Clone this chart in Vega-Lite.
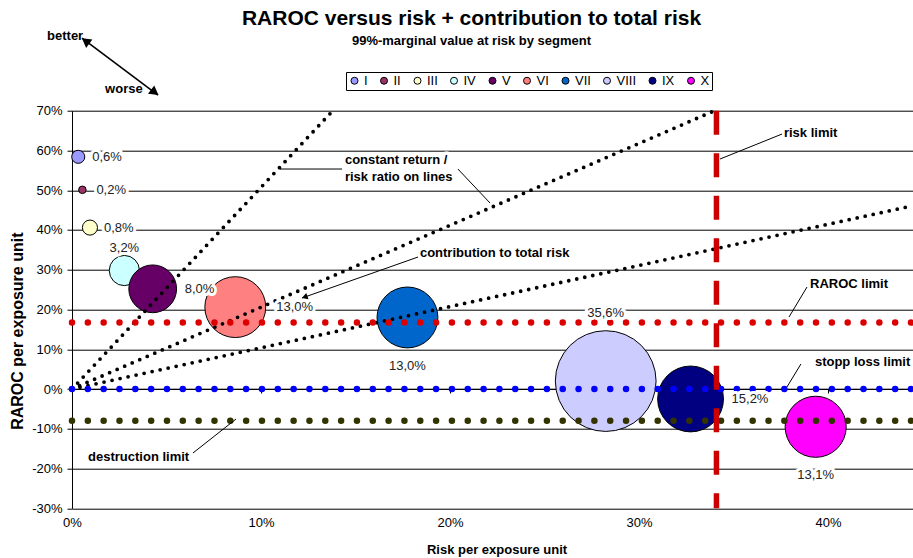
{
  "$schema": "https://vega.github.io/schema/vega-lite/v6.json",
  "width": 841,
  "height": 397.6,
  "autosize": {"type": "none"},
  "padding": {"left": 72, "top": 110.7, "right": 0, "bottom": 49.7},
  "background": "white",
  "config": {
    "font": "Liberation Sans",
    "view": {"stroke": null},
    "locale": {"number": {"decimal": ",", "thousands": ".", "grouping": [3], "currency": ["", " €"], "minus": "-"}}
  },
  "title": {
    "text": "RAROC versus risk + contribution to total risk",
    "subtitle": "99%-marginal value at risk by segment",
    "fontSize": 21,
    "fontWeight": "bold",
    "color": "#000",
    "subtitleFontSize": 13,
    "subtitleFontWeight": "bold",
    "subtitleColor": "#000",
    "subtitlePadding": 6,
    "anchor": "middle",
    "frame": "group",
    "dx": -21,
    "offset": -18
  },
  "datasets": {
    "segments": [
      {"segment": "I", "x": 0.0033, "y": 0.584, "contrib": 0.006},
      {"segment": "II", "x": 0.0055, "y": 0.501, "contrib": 0.002},
      {"segment": "III", "x": 0.0095, "y": 0.406, "contrib": 0.008},
      {"segment": "IV", "x": 0.0277, "y": 0.298, "contrib": 0.032},
      {"segment": "V", "x": 0.0427, "y": 0.252, "contrib": 0.080},
      {"segment": "VI", "x": 0.0864, "y": 0.206, "contrib": 0.130},
      {"segment": "VII", "x": 0.1775, "y": 0.180, "contrib": 0.130},
      {"segment": "VIII", "x": 0.2824, "y": 0.020, "contrib": 0.356},
      {"segment": "IX", "x": 0.3273, "y": -0.025, "contrib": 0.152},
      {"segment": "X", "x": 0.3935, "y": -0.095, "contrib": 0.131}
    ],
    "lines": [
      {"line": "ratio 1", "x": 0, "y": 0},
      {"line": "ratio 1", "x": 0.138, "y": 0.70},
      {"line": "ratio 2", "x": 0, "y": 0},
      {"line": "ratio 2", "x": 0.34, "y": 0.70},
      {"line": "ratio 3", "x": 0, "y": 0},
      {"line": "ratio 3", "x": 0.445, "y": 0.461},
      {"line": "RAROC limit", "x": 0, "y": 0.167},
      {"line": "RAROC limit", "x": 0.445, "y": 0.167},
      {"line": "stopp loss limit", "x": 0, "y": 0},
      {"line": "stopp loss limit", "x": 0.445, "y": 0},
      {"line": "destruction limit", "x": 0, "y": -0.08},
      {"line": "destruction limit", "x": 0.445, "y": -0.08}
    ],
    "risklimit": [
      {"limit": "risk limit", "x": 0.341, "y": 0.7, "y2": -0.3}
    ],
    "annotations": [
      {"text": "constant return /", "x": 0.1444, "y": 0.576},
      {"text": "risk ratio on lines", "x": 0.1444, "y": 0.5332},
      {"text": "contribution to total risk", "x": 0.1841, "y": 0.342},
      {"text": "risk limit", "x": 0.3767, "y": 0.6439},
      {"text": "RAROC limit", "x": 0.3905, "y": 0.2641},
      {"text": "stopp loss limit", "x": 0.3931, "y": 0.0679},
      {"text": "destruction limit", "x": 0.0085, "y": -0.171},
      {"text": "better", "x": -0.0132, "y": 0.8878},
      {"text": "worse", "x": 0.0175, "y": 0.7545}
    ],
    "leaders": [
      {"id": "constant return a", "x": 0.1100, "y": 0.5533, "x2": 0.1429, "y2": 0.5533},
      {"id": "constant return b", "x": 0.2042, "y": 0.5533, "x2": 0.2212, "y2": 0.4678},
      {"id": "contribution", "x": 0.1831, "y": 0.3320, "x2": 0.1217, "y2": 0.2289},
      {"id": "risk limit", "x": 0.3757, "y": 0.6413, "x2": 0.3429, "y2": 0.5785},
      {"id": "RAROC limit", "x": 0.3889, "y": 0.2565, "x2": 0.3794, "y2": 0.1811},
      {"id": "stopp loss limit", "x": 0.3857, "y": 0.0629, "x2": 0.3783, "y2": 0.0050},
      {"id": "destruction limit", "x": 0.0640, "y": -0.1610, "x2": 0.0868, "y2": -0.0755},
      {"id": "better worse", "x": 0.0053, "y": 0.8828, "x2": 0.0455, "y2": 0.7394}
    ],
    "arrowheads": [
      {"id": "better", "x": 0.0072, "y": 0.8753},
      {"id": "worse", "x": 0.0438, "y": 0.7462},
      {"id": "contribution", "x": 0.1231, "y": 0.2314}
    ]
  },
  "encoding": {
    "x": {
      "field": "x",
      "type": "quantitative",
      "scale": {"domain": [0, 0.445], "nice": false, "zero": false},
      "axis": {
        "values": [0, 0.1, 0.2, 0.3, 0.4],
        "format": ".0%",
        "offset": -119.3,
        "domain": true,
        "domainColor": "#000",
        "domainWidth": 1,
        "ticks": true,
        "tickSize": 4,
        "tickColor": "#000",
        "labelPadding": 123.5,
        "labelFontSize": 13,
        "labelColor": "#000",
        "labelFlush": false,
        "grid": false,
        "title": "Risk per exposure unit",
        "titleFontSize": 13,
        "titleFontWeight": "bold",
        "titleColor": "#000",
        "titleX": 424.5,
        "titleY": 160,
        "titleBaseline": "middle",
        "titleAlign": "center"
      }
    },
    "y": {
      "field": "y",
      "type": "quantitative",
      "scale": {"domain": [-0.3, 0.7], "nice": false, "zero": false},
      "axis": {
        "values": [-0.3, -0.2, -0.1, 0, 0.1, 0.2, 0.3, 0.4, 0.5, 0.6, 0.7],
        "format": ".0%",
        "domainColor": "#000",
        "domainWidth": 1,
        "tickColor": "#000",
        "tickSize": 5,
        "labelPadding": 5,
        "labelFontSize": 13,
        "labelColor": "#000",
        "grid": true,
        "gridColor": "#000",
        "gridWidth": 1,
        "gridOpacity": 1,
        "title": "RAROC per exposure unit",
        "titleFontSize": 16,
        "titleFontWeight": "bold",
        "titleColor": "#000",
        "titleX": -55,
        "titleY": 220,
        "titleAngle": 270,
        "titleBaseline": "middle",
        "titleAlign": "center"
      }
    }
  },
  "layer": [
    {
      "data": {"name": "segments"},
      "mark": {"type": "point", "shape": "circle", "filled": true, "opacity": 1, "strokeWidth": 1, "strokeOpacity": 1},
      "encoding": {
        "stroke": {"value": "#000"},
        "color": {
          "field": "segment",
          "type": "nominal",
          "scale": {
            "domain": ["I", "II", "III", "IV", "V", "VI", "VII", "VIII", "IX", "X"],
            "range": ["#9999FF", "#993366", "#FFFFCC", "#CCFFFF", "#660066", "#FF8080", "#0066CC", "#CCCCFF", "#000080", "#FF00FF"]
          },
          "legend": {
            "orient": "none",
            "legendX": 274,
            "legendY": -38.7,
            "direction": "horizontal",
            "columns": 10,
            "title": null,
            "symbolType": "circle",
            "symbolSize": 49,
            "symbolStrokeColor": "#000",
            "symbolStrokeWidth": 1,
            "symbolOpacity": 1,
            "labelFontSize": 13,
            "labelColor": "#000",
            "labelOffset": 3,
            "columnPadding": 9.5,
            "padding": 2,
            "strokeColor": "#000",
            "fillColor": "#fff"
          }
        },
        "size": {
          "field": "contrib",
          "type": "quantitative",
          "scale": {"domain": [0, 0.356], "range": [0, 10150], "zero": true},
          "legend": null
        }
      }
    },
    {
      "data": {"name": "lines"},
      "transform": [{"filter": {"field": "line", "oneOf": ["ratio 1", "ratio 2", "ratio 3"]}}],
      "mark": {"type": "line", "color": "#000", "strokeWidth": 3.8, "strokeDash": [0, 8.2], "strokeCap": "round"},
      "encoding": {"detail": {"field": "line", "type": "nominal"}}
    },
    {
      "data": {"name": "lines"},
      "transform": [{"filter": {"field": "line", "equal": "RAROC limit"}}],
      "mark": {"type": "line", "color": "#DD0000", "strokeWidth": 6.5, "strokeDash": [0, 15.83], "strokeCap": "round"},
      "encoding": {}
    },
    {
      "data": {"name": "lines"},
      "transform": [{"filter": {"field": "line", "equal": "stopp loss limit"}}],
      "mark": {"type": "line", "color": "#0000FF", "strokeWidth": 6.5, "strokeDash": [0, 15.83], "strokeCap": "round"},
      "encoding": {}
    },
    {
      "data": {"name": "lines"},
      "transform": [{"filter": {"field": "line", "equal": "destruction limit"}}],
      "mark": {"type": "line", "color": "#333300", "strokeWidth": 6.5, "strokeDash": [0, 15.83], "strokeCap": "round"},
      "encoding": {}
    },
    {
      "data": {"name": "risklimit"},
      "mark": {"type": "rule", "color": "#CC0000", "strokeWidth": 5.5, "strokeDash": [24, 18.5], "strokeCap": "butt"},
      "encoding": {"y2": {"field": "y2"}}
    },
    {
      "data": {"name": "segments"},
      "transform": [{"filter": {"field": "segment", "oneOf": ["I", "II", "III"]}}],
      "encoding": {"text": {"field": "contrib", "type": "quantitative", "format": ".1%"}},
      "layer": [
        {"mark": {"type": "text", "align": "left", "baseline": "middle", "dx": 14, "fontSize": 13, "stroke": "#fff", "strokeWidth": 6, "strokeJoin": "round", "color": "#fff"}},
        {"mark": {"type": "text", "align": "left", "baseline": "middle", "dx": 14, "fontSize": 13, "color": "#222"}}
      ]
    },
    {
      "data": {"name": "segments"},
      "transform": [{"filter": {"field": "segment", "equal": "V"}}],
      "encoding": {"text": {"field": "contrib", "type": "quantitative", "format": ".1%"}},
      "layer": [
        {"mark": {"type": "text", "align": "left", "baseline": "middle", "dx": 32, "fontSize": 13, "stroke": "#fff", "strokeWidth": 6, "strokeJoin": "round", "color": "#fff"}},
        {"mark": {"type": "text", "align": "left", "baseline": "middle", "dx": 32, "fontSize": 13, "color": "#222"}}
      ]
    },
    {
      "data": {"name": "segments"},
      "transform": [{"filter": {"field": "segment", "oneOf": ["VI", "IX"]}}],
      "encoding": {"text": {"field": "contrib", "type": "quantitative", "format": ".1%"}},
      "layer": [
        {"mark": {"type": "text", "align": "left", "baseline": "middle", "dx": 41, "fontSize": 13, "stroke": "#fff", "strokeWidth": 6, "strokeJoin": "round", "color": "#fff"}},
        {"mark": {"type": "text", "align": "left", "baseline": "middle", "dx": 41, "fontSize": 13, "color": "#222"}}
      ]
    },
    {
      "data": {"name": "segments"},
      "transform": [{"filter": {"field": "segment", "equal": "IV"}}],
      "encoding": {"text": {"field": "contrib", "type": "quantitative", "format": ".1%"}},
      "layer": [
        {"mark": {"type": "text", "align": "center", "baseline": "middle", "dy": -23, "fontSize": 13, "stroke": "#fff", "strokeWidth": 6, "strokeJoin": "round", "color": "#fff"}},
        {"mark": {"type": "text", "align": "center", "baseline": "middle", "dy": -23, "fontSize": 13, "color": "#222"}}
      ]
    },
    {
      "data": {"name": "segments"},
      "transform": [{"filter": {"field": "segment", "equal": "VIII"}}],
      "encoding": {"text": {"field": "contrib", "type": "quantitative", "format": ".1%"}},
      "layer": [
        {"mark": {"type": "text", "align": "center", "baseline": "middle", "dy": -68, "fontSize": 13, "stroke": "#fff", "strokeWidth": 6, "strokeJoin": "round", "color": "#fff"}},
        {"mark": {"type": "text", "align": "center", "baseline": "middle", "dy": -68, "fontSize": 13, "color": "#222"}}
      ]
    },
    {
      "data": {"name": "segments"},
      "transform": [{"filter": {"field": "segment", "oneOf": ["VII", "X"]}}],
      "encoding": {"text": {"field": "contrib", "type": "quantitative", "format": ".1%"}},
      "layer": [
        {"mark": {"type": "text", "align": "center", "baseline": "middle", "dy": 48.5, "fontSize": 13, "stroke": "#fff", "strokeWidth": 6, "strokeJoin": "round", "color": "#fff"}},
        {"mark": {"type": "text", "align": "center", "baseline": "middle", "dy": 48.5, "fontSize": 13, "color": "#222"}}
      ]
    },
    {
      "data": {"name": "annotations"},
      "encoding": {"text": {"field": "text", "type": "nominal"}},
      "layer": [
        {"mark": {"type": "text", "align": "left", "baseline": "middle", "fontSize": 13, "fontWeight": "bold", "stroke": "#fff", "strokeWidth": 7, "strokeJoin": "round", "color": "#fff"}},
        {"mark": {"type": "text", "align": "left", "baseline": "middle", "fontSize": 13, "fontWeight": "bold", "color": "#000"}}
      ]
    },
    {
      "data": {"name": "leaders"},
      "transform": [{"filter": {"field": "id", "oneOf": ["constant return a", "constant return b", "contribution", "risk limit", "RAROC limit", "stopp loss limit", "destruction limit"]}}],
      "mark": {"type": "rule", "color": "#000", "strokeWidth": 1},
      "encoding": {"x2": {"field": "x2"}, "y2": {"field": "y2"}, "detail": {"field": "id", "type": "nominal"}}
    },
    {
      "data": {"name": "leaders"},
      "transform": [{"filter": {"field": "id", "equal": "better worse"}}],
      "mark": {"type": "rule", "color": "#000", "strokeWidth": 1.6},
      "encoding": {"x2": {"field": "x2"}, "y2": {"field": "y2"}}
    },
    {
      "data": {"name": "arrowheads"},
      "transform": [{"filter": {"field": "id", "equal": "better"}}],
      "mark": {"type": "point", "shape": "triangle-up", "filled": true, "color": "#000", "opacity": 1, "size": 110, "angle": 306.9},
      "encoding": {}
    },
    {
      "data": {"name": "arrowheads"},
      "transform": [{"filter": {"field": "id", "equal": "worse"}}],
      "mark": {"type": "point", "shape": "triangle-up", "filled": true, "color": "#000", "opacity": 1, "size": 110, "angle": 126.9},
      "encoding": {}
    },
    {
      "data": {"name": "arrowheads"},
      "transform": [{"filter": {"field": "id", "equal": "contribution"}}],
      "mark": {"type": "point", "shape": "triangle-up", "filled": true, "color": "#000", "opacity": 1, "size": 45, "angle": 250.5},
      "encoding": {}
    }
  ]
}
